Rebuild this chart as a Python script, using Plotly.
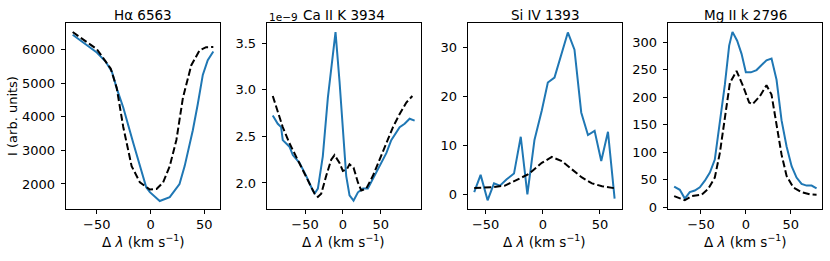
import plotly.graph_objects as go
from plotly.subplots import make_subplots

# ---- data ----
titles = ["Hα 6563", "Ca II K 3934", "Si IV 1393", "Mg II k 2796"]

ha_obs_x = [-72.5, -60, -50, -42, -36, -31, -25.4, -16, -8.3, -4, -0.6, 8.6, 17.9, 27, 31.8, 39.4, 44, 48.7, 53.3, 58.5]
ha_obs_y = [6440, 6150, 5910, 5650, 5340, 4800, 4276, 3210, 2337, 1900, 1756, 1494, 1610, 2000, 2532, 3599, 4372, 5244, 5680, 5940]
ha_mod_x = [-72.5, -60, -50, -37, -31.5, -25.4, -17.6, -9.9, -0.6, 5.6, 11.7, 17.9, 24.1, 30.2, 38, 45.6, 51.8, 58.5]
ha_mod_y = [6520, 6250, 6010, 5430, 4858, 3695, 2532, 2047, 1834, 1850, 2047, 2532, 3308, 4567, 5535, 5971, 6070, 6075]

ca_obs_x = [-92.6, -86, -81.6, -79.4, -70.5, -66.1, -57.3, -48.5, -39.7, -37, -33, -26.5, -19.8, -13.2, -9.7, -4.4, 0, 4.4, 8.8, 14.1, 19.9, 26.5, 33, 39.7, 48.5, 57.4, 63.9, 75, 81.6, 88.2, 94.8]
ca_obs_y = [2.724, 2.636, 2.60, 2.46, 2.39, 2.30, 2.216, 2.077, 1.92, 1.89, 1.94, 2.286, 2.916, 3.42, 3.62, 3.09, 2.567, 2.077, 1.867, 1.81, 1.90, 1.94, 1.94, 2.04, 2.18, 2.32, 2.46, 2.60, 2.636, 2.69, 2.67]
ca_mod_x = [-92.6, -86, -79.4, -70.5, -61.7, -52.9, -44.1, -37.4, -33, -28.6, -22, -15.4, -11, -4.4, 0, 5.3, 8.8, 14.1, 19.9, 24.3, 30.9, 39.7, 48.5, 57.4, 66.2, 75, 83.8, 91.8]
ca_mod_y = [2.934, 2.776, 2.60, 2.426, 2.286, 2.147, 2.006, 1.885, 1.85, 1.885, 2.077, 2.25, 2.30, 2.216, 2.13, 2.147, 2.20, 2.165, 2.006, 1.92, 1.94, 2.077, 2.25, 2.426, 2.60, 2.74, 2.864, 2.934]

si_obs_x = [-60, -54.4, -48.3, -42.7, -37.5, -31.6, -25.2, -19.3, -13.5, -7.3, -0.9, 4.4, 10.2, 16, 21.9, 27.7, 33.6, 39.5, 45.3, 51.1, 57, 62.8]
si_obs_y = [0.46, 3.98, -1.2, 2.25, 1.79, 3.1, 4.25, 11.75, 0.0, 11.1, 17.1, 22.8, 23.8, 28.3, 33.0, 29.5, 16.7, 12.1, 12.95, 6.8, 12.75, -0.86]
si_mod_x = [-60, -44.7, -33.1, -24.3, -12.6, -0.9, 7.9, 16.7, 25.4, 34.2, 43, 51.8, 62.8]
si_mod_y = [1.33, 1.46, 1.79, 2.79, 4.12, 6.43, 7.63, 6.77, 5.12, 3.45, 2.25, 1.65, 1.26]

mg_obs_x = [-79.9, -73.6, -68, -62.5, -56.9, -51.3, -45.7, -40.1, -34.6, -29, -23.4, -18.6, -14.9, -9.7, -4.8, 0, 5.6, 11.9, 17.5, 23, 28.6, 34.2, 39.8, 45.4, 51, 56.5, 62.1, 67.7, 73.3, 78.8]
mg_obs_y = [37.8, 32, 16, 27.7, 30.7, 36.6, 48.5, 63.2, 87, 152, 223, 294, 319, 303, 279, 245.5, 245.5, 249.6, 258.5, 267.4, 270.4, 231.9, 158, 110.6, 75, 54.3, 42.6, 39.6, 39.6, 34.8]
mg_mod_x = [-79.9, -68, -60.6, -49.4, -42, -34.6, -29, -22.3, -17.8, -10.4, -3, 3.7, 7.4, 15.6, 23, 28.6, 34.2, 39.8, 45.4, 52.7, 62.1, 71.5, 78.8]
mg_mod_y = [20.6, 13, 20.6, 23, 33.7, 54.3, 98.7, 175.7, 226, 248, 220, 190.5, 187.5, 202, 222, 205, 152, 95.9, 57.3, 36.6, 27.7, 23.6, 23]

x_ticks = [-50, 0, 50]
x_tick_text = ["−50", "0", "50"]
y_ticks = [[2000, 3000, 4000, 5000, 6000], [2.0, 2.5, 3.0, 3.5], [0, 10, 20, 30], [0, 50, 100, 150, 200, 250, 300]]

series = [(ha_obs_x, ha_obs_y, ha_mod_x, ha_mod_y),
          (ca_obs_x, ca_obs_y, ca_mod_x, ca_mod_y),
          (si_obs_x, si_obs_y, si_mod_x, si_mod_y),
          (mg_obs_x, mg_obs_y, mg_mod_x, mg_mod_y)]

# ---- layout ----
W, H = 830, 261
x_dom_px = [(65.7, 220.3), (266.7, 421.0), (467.7, 621.7), (667.7, 822.3)]
y_dom_px = (24.0, 213.7)
x_ranges = [(-79, 65), (-100.6, 103.2), (-65.7, 69.0), (-87.1, 85.2)]
y_ranges = [(1262, 6776), (1.723, 3.713), (-2.93, 34.84), (-2.5, 334.3)]

fig = make_subplots(rows=1, cols=4)
FONT = "DejaVu Sans"
for i, (ox, oy, mx, my) in enumerate(series):
    fig.add_trace(go.Scatter(x=ox, y=oy, mode="lines", line=dict(color="#1f77b4", width=2),
                             showlegend=False, hoverinfo="skip"), row=1, col=i + 1)
    fig.add_trace(go.Scatter(x=mx, y=my, mode="lines", line=dict(color="black", width=2, dash="7px,3px"),
                             showlegend=False, hoverinfo="skip"), row=1, col=i + 1)

axis_common = dict(showline=True, mirror=True, linecolor="black", linewidth=1, ticks="outside",
                   ticklen=4, tickwidth=1, tickcolor="black", showgrid=False, zeroline=False,
                   tickfont=dict(family=FONT, size=13, color="black"))
for i in range(4):
    xd = [x_dom_px[i][0] / W, x_dom_px[i][1] / W]
    yd = [1 - y_dom_px[1] / H, 1 - y_dom_px[0] / H]
    xa = "xaxis" if i == 0 else f"xaxis{i+1}"
    ya = "yaxis" if i == 0 else f"yaxis{i+1}"
    yt = y_ticks[i]
    if i == 1:
        ytext = [f"{v:.1f}" for v in yt]
    else:
        ytext = [str(v) for v in yt]
    fig.layout[xa].update(domain=xd, range=list(x_ranges[i]), tickvals=x_ticks,
                          ticktext=x_tick_text, **axis_common)
    fig.layout[ya].update(domain=yd, range=list(y_ranges[i]), tickvals=yt, ticktext=ytext,
                          ticklabelstandoff=3, **axis_common)
    cx = (x_dom_px[i][0] + x_dom_px[i][1]) / 2 / W
    fig.add_annotation(x=cx, y=1 - 15 / H, xref="paper", yref="paper", text=titles[i],
                       showarrow=False, xanchor="center", yanchor="middle",
                       font=dict(family=FONT, size=13.5, color="black"))
    fig.add_annotation(x=cx, y=1 - 246.5 / H, xref="paper", yref="paper",
                       text="Δ <i>λ</i> (km s<sup>−1</sup>)", showarrow=False,
                       xanchor="center", yanchor="middle",
                       font=dict(family=FONT, size=13.5, color="black"))

fig.add_annotation(x=266.7 / W, y=1 - 17 / H, xref="paper", yref="paper", text="1e−9",
                   showarrow=False, xanchor="left", yanchor="middle",
                   font=dict(family=FONT, size=10.5, color="black"))
fig.add_annotation(x=12.7 / W, y=1 - 119 / H, xref="paper", yref="paper", text="I (arb. units)",
                   textangle=-90, showarrow=False, xanchor="center", yanchor="middle",
                   font=dict(family=FONT, size=13, color="black"))

fig.update_layout(width=W, height=H, margin=dict(l=0, r=0, t=0, b=0),
                  paper_bgcolor="white", plot_bgcolor="white", hovermode=False,
                  font=dict(family=FONT, size=13, color="black"))
fig.write_html("out.html", config={"displayModeBar": False},
               post_script="document.body.style.margin='0';document.body.style.overflow='hidden';")
